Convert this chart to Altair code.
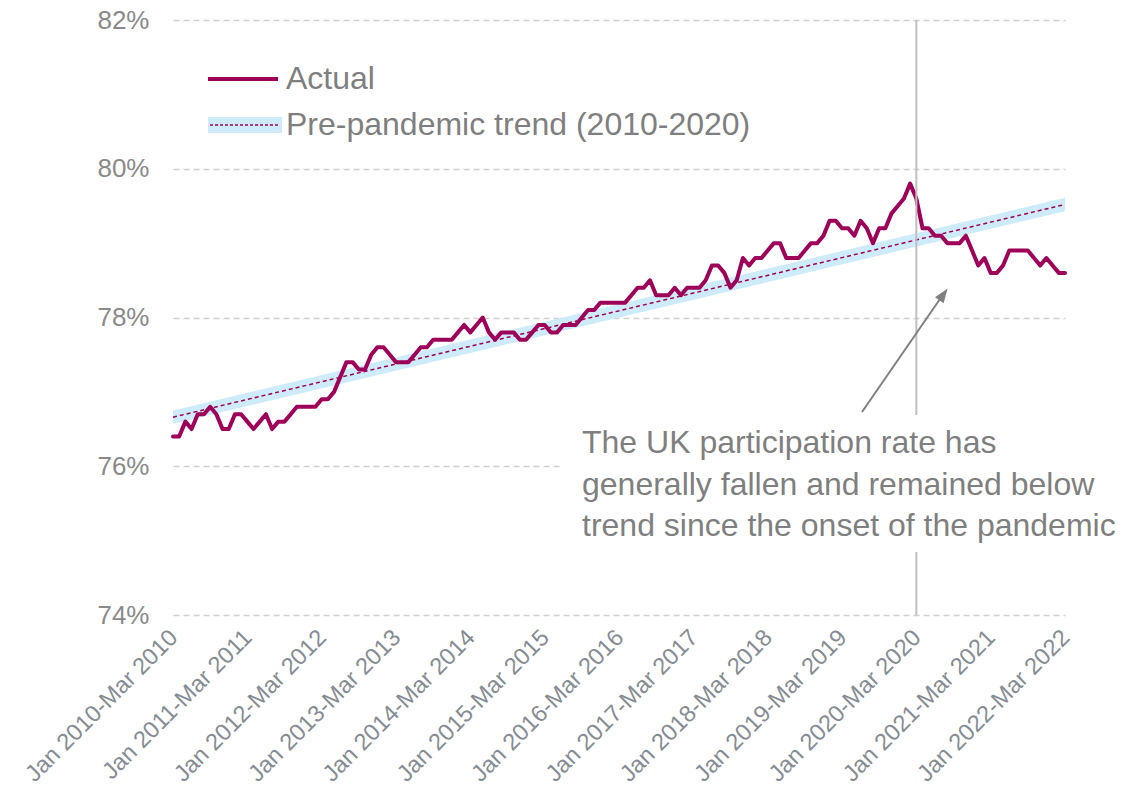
import altair as alt
import pandas as pd

# Rolling three-month periods, Jan-Mar 2010 through Jan-Mar 2022
MONTHS = ["Jan", "Feb", "Mar", "Apr", "May", "Jun",
          "Jul", "Aug", "Sep", "Oct", "Nov", "Dec"]
periods = []
for k in range(145):
    m, y = k % 12, 2010 + k // 12
    e, y2 = (m + 2) % 12, y + (m + 2) // 12
    periods.append(f"{MONTHS[m]} {y}-{MONTHS[e]} {y2}")

# UK participation rate (%), actual
actual = [
    76.4, 76.4, 76.6, 76.5, 76.7, 76.7, 76.8, 76.7, 76.5, 76.5,
    76.7, 76.7, 76.6, 76.5, 76.6, 76.7, 76.5, 76.6, 76.6, 76.7,
    76.8, 76.8, 76.8, 76.8, 76.9, 76.9, 77.0, 77.2, 77.4, 77.4,
    77.3, 77.3, 77.5, 77.6, 77.6, 77.5, 77.4, 77.4, 77.4, 77.5,
    77.6, 77.6, 77.7, 77.7, 77.7, 77.7, 77.8, 77.9, 77.8, 77.9,
    78.0, 77.8, 77.7, 77.8, 77.8, 77.8, 77.7, 77.7, 77.8, 77.9,
    77.9, 77.8, 77.8, 77.9, 77.9, 77.9, 78.0, 78.1, 78.1, 78.2,
    78.2, 78.2, 78.2, 78.2, 78.3, 78.4, 78.4, 78.5, 78.3, 78.3,
    78.3, 78.4, 78.3, 78.4, 78.4, 78.4, 78.5, 78.7, 78.7, 78.6,
    78.4, 78.5, 78.8, 78.7, 78.8, 78.8, 78.9, 79.0, 79.0, 78.8,
    78.8, 78.8, 78.9, 79.0, 79.0, 79.1, 79.3, 79.3, 79.2, 79.2,
    79.1, 79.3, 79.2, 79.0, 79.2, 79.2, 79.4, 79.5, 79.6, 79.8,
    79.6, 79.2, 79.2, 79.1, 79.1, 79.0, 79.0, 79.0, 79.1, 78.9,
    78.7, 78.8, 78.6, 78.6, 78.7, 78.9, 78.9, 78.9, 78.9, 78.8,
    78.7, 78.8, 78.7, 78.6, 78.6,
]

# Pre-pandemic linear trend (2010-2020), extended to the end of the series
trend_periods = [periods[0], periods[-1]]
trend_values = [76.66, 79.52]
trend_band = 0.09

tick_periods = periods[::12]
y_ticks = [74, 76, 78, 80, 82]
pandemic_start = "Jan 2020-Mar 2020"

note_lines = [
    "The UK participation rate has",
    "generally fallen and remained below",
    "trend since the onset of the pandemic",
]

ACTUAL_COLOR = "#9E0059"
BAND_COLOR = "#CDEBF8"
TEXT_GREY = "#7F7F7F"
FONT = "Liberation Sans"

W, H = 892, 595

df = pd.DataFrame({"period": periods, "rate": actual})
trend_df = pd.DataFrame({
    "period": trend_periods,
    "trend": trend_values,
    "lo": [v - trend_band for v in trend_values],
    "hi": [v + trend_band for v in trend_values],
})
one = pd.DataFrame({"k": [0]})

x_scale = alt.Scale(type="point", domain=periods, padding=0)
y_scale = alt.Scale(domain=[74, 82])

x_axis = alt.Axis(
    values=tick_periods, labelAngle=-45, title=None, ticks=False, domain=False,
    grid=False, labelFontSize=23.5, labelColor="#858C93", labelPadding=10,
    labelOffset=-8, labelFont=FONT, labelLimit=400, labelOverlap=False,
)
y_axis = alt.Axis(
    values=y_ticks, labelExpr="datum.value + '%'", title=None, ticks=False,
    domain=False, grid=True, gridDash=[6, 4], gridColor="#D0D0D0", gridWidth=1.5,
    labelFontSize=26, labelColor="#8A8A8A", labelPadding=24, labelFont=FONT,
)

band = alt.Chart(trend_df).mark_area(color=BAND_COLOR, opacity=1).encode(
    x=alt.X("period:N", scale=x_scale, axis=x_axis),
    y=alt.Y("lo:Q", scale=y_scale, axis=y_axis),
    y2="hi:Q",
)

trend = alt.Chart(trend_df).mark_line(
    color=ACTUAL_COLOR, strokeWidth=1.5, strokeDash=[4, 3]
).encode(
    x=alt.X("period:N", scale=x_scale),
    y=alt.Y("trend:Q", scale=y_scale),
)

line = alt.Chart(df).mark_line(
    color=ACTUAL_COLOR, strokeWidth=4, strokeJoin="round", strokeCap="round"
).encode(
    x=alt.X("period:N", scale=x_scale),
    y=alt.Y("rate:Q", scale=y_scale),
)

vrule = alt.Chart(pd.DataFrame({"period": [pandemic_start]})).mark_rule(
    color="#BFBFBF", strokeWidth=2
).encode(
    x=alt.X("period:N", scale=x_scale),
    y=alt.value(0),
    y2=alt.value(H),
)

# Annotation: white panel, note text and arrow
note_box = alt.Chart(one).mark_rect(color="white").encode(
    x=alt.value(387), x2=alt.value(957), y=alt.value(395), y2=alt.value(532)
)
note_text = alt.Chart(one).mark_text(
    align="left", baseline="middle", fontSize=32, font=FONT, color=TEXT_GREY,
    lineHeight=41.5,
).encode(x=alt.value(409), y=alt.value(423), text=alt.value(note_lines))

arrow_shaft = alt.Chart(one).mark_rule(color="#808080", strokeWidth=2).encode(
    x=alt.value(689), y=alt.value(392), x2=alt.value(767), y2=alt.value(279)
)
arrow_head = alt.Chart(one).mark_point(
    shape="M0,-1L0.65,0.8L-0.65,0.8Z", filled=True, color="#808080",
    size=260, angle=35, opacity=1,
).encode(x=alt.value(770), y=alt.value(275))

# Legend
leg_actual = alt.Chart(one).mark_rule(color=ACTUAL_COLOR, strokeWidth=4).encode(
    x=alt.value(35), x2=alt.value(105), y=alt.value(59)
)
leg_band = alt.Chart(one).mark_rect(color=BAND_COLOR).encode(
    x=alt.value(35), x2=alt.value(109), y=alt.value(97), y2=alt.value(113)
)
leg_trend = alt.Chart(one).mark_rule(
    color=ACTUAL_COLOR, strokeWidth=1.5, strokeDash=[3, 2]
).encode(x=alt.value(37), x2=alt.value(107), y=alt.value(105))
leg_text1 = alt.Chart(one).mark_text(
    align="left", baseline="middle", fontSize=32, font=FONT, color=TEXT_GREY
).encode(x=alt.value(113), y=alt.value(59), text=alt.value("Actual"))
leg_text2 = alt.Chart(one).mark_text(
    align="left", baseline="middle", fontSize=32, font=FONT, color=TEXT_GREY
).encode(x=alt.value(113), y=alt.value(105),
         text=alt.value("Pre-pandemic trend (2010-2020)"))

chart = alt.layer(
    band, trend, line, vrule, note_box, note_text, arrow_shaft, arrow_head,
    leg_actual, leg_band, leg_trend, leg_text1, leg_text2,
).properties(
    width=W, height=H,
    autosize=alt.AutoSizeParams(type="none"),
    padding={"left": 173, "top": 20, "right": 75, "bottom": 177},
    background="white",
).configure_view(stroke=None)

chart.save("out.html", embed_options={"renderer": "svg", "actions": False})
